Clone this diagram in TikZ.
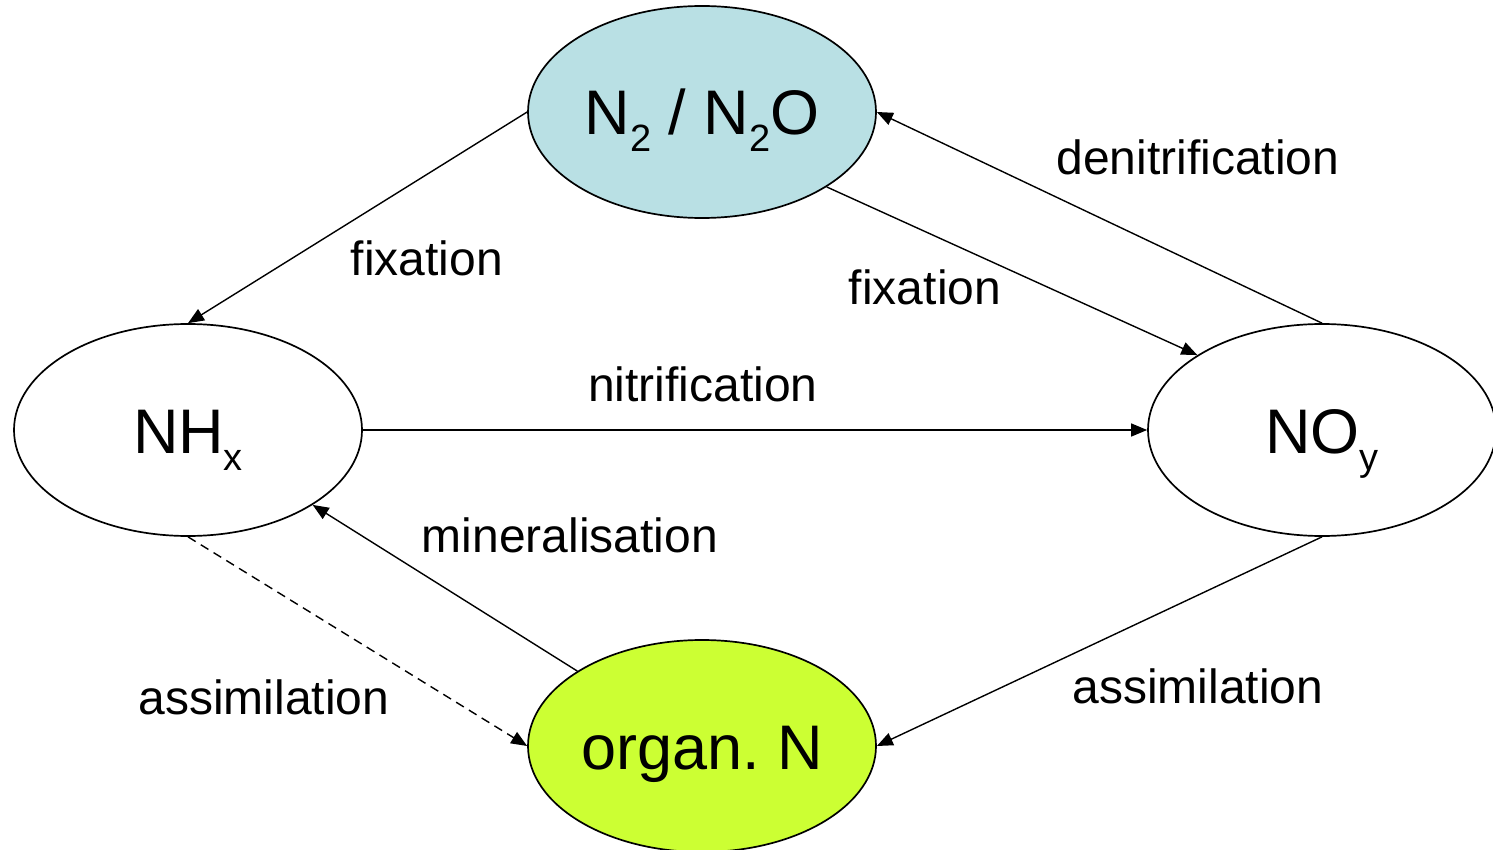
\documentclass[tikz,border=0pt]{standalone}
\usepackage{fontspec}
\setmainfont{Liberation Sans}
\usetikzlibrary{shapes.geometric,arrows.meta}
\definecolor{gasblue}{HTML}{B9E0E4}
\definecolor{orggreen}{HTML}{CCFF33}
\newcommand{\sub}[1]{\raisebox{-17pt}{\fontsize{38}{38}\selectfont #1}}
\begin{document}
\begin{tikzpicture}[x=1pt, y=-1pt,
  pool/.style={ellipse, draw, line width=1.7pt, minimum width=348pt, minimum height=212pt, inner sep=0pt, text height=46pt, text depth=0pt, font=\fontsize{63}{63}\selectfont},
  flow/.style={line width=1.4pt, -{Triangle[length=16pt, width=13pt]}},
  lbl/.style={anchor=base, inner sep=0pt, font=\fontsize{48}{48}\selectfont}]
\useasboundingbox (0,0) rectangle (1493,850);
\begin{scope}
\clip (0,0) rectangle (1493,850);
\node[pool, fill=gasblue] (ngas) at (702,112){N\sub{2} / N\sub{2}O};
\node[pool] (nhx) at (188,430){NH\sub{x}};
\node[pool] (noy) at (1322,430){NO\sub{y}};
\node[pool, fill=orggreen] (orgn) at (702,746){organ.\ N};
\end{scope}
\draw[flow](ngas.west) -- (nhx.north);
\draw[flow](ngas.-31) -- (noy.149);
\draw[flow](noy.north) -- (ngas.east);
\draw[flow](nhx.east) -- (noy.west);
\draw[flow](orgn.149) -- (nhx.-31);
\draw[flow, dash pattern=on 9pt off 6pt](nhx.south) -- (orgn.west);
\draw[flow](noy.south) -- (orgn.east);
\node[lbl] (lfix1) at (427,276){fixation};
\node[lbl] (lfix2) at (925,305){fixation};
\node[lbl] (ldenit) at (1198,175){denitrification};
\node[lbl] (lnitr) at (703,401){nitrification};
\node[lbl] (lmin) at (570,552){mineralisation};
\node[lbl] (lass1) at (264,714){assimilation};
\node[lbl] (lass2) at (1198,703){assimilation};
\end{tikzpicture}
\end{document}
